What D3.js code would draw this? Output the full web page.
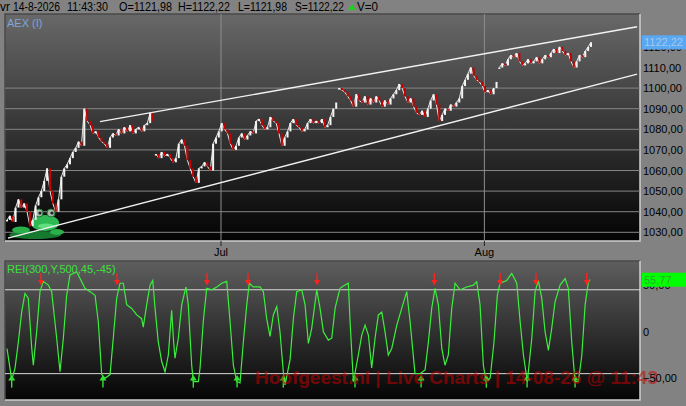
<!DOCTYPE html>
<html>
<head>
<meta charset="utf-8">
<script src="https://cdn.jsdelivr.net/npm/d3@7"></script>
<style>
    html, body { margin: 0; padding: 0; background: #828282; overflow: hidden; }
    svg { display: block; font-family: "Liberation Sans", Arial, sans-serif; }
</style>
</head>
<body>
<svg width="686" height="406"></svg>
<script>

//  Close of every bar, 4 bars per trading day, starting early June
const priceCloses = [
    1036, 1038, 1035, 1042,   1046, 1042, 1044, 1040,   1033, 1036, 1043, 1047,
    1050, 1055, 1061, 1050,   1044, 1040, 1046, 1057,   1061, 1063, 1066, 1069,
    1071, 1074, 1072, 1090,   1084, 1082, 1078, 1079,   1076, 1074, 1073, 1071,
    1076, 1078, 1077, 1080,   1078, 1081, 1079, 1082,   1078, 1080, 1081, 1079,
    1082, 1083, 1088, 1084,   1068, 1066, 1069, 1067,   1068, 1066, 1064, 1066,
    1073, 1075, 1072, 1065,   1061, 1057, 1054, 1061,   1062, 1064, 1062, 1060,
    1073, 1076, 1079, 1083,   1080, 1078, 1073, 1070,   1072, 1076, 1078, 1075,
    1077, 1079, 1078, 1084,   1085, 1082, 1080, 1081,   1086, 1084, 1083, 1078,
    1072, 1076, 1079, 1083,   1085, 1082, 1081, 1079,   1080, 1083, 1085, 1083,
    1084, 1083, 1085, 1081,   1082, 1086, 1090, 1093,   1100, 1099, 1098, 1096,
    1094, 1091, 1097, 1094,   1093, 1096, 1092, 1095,   1093, 1096, 1094, 1091,
    1094, 1092, 1095, 1097,   1099, 1102, 1100, 1096,   1093, 1095, 1091, 1088,
    1087, 1089, 1086, 1090,   1094, 1097, 1092, 1084,   1087, 1090, 1089, 1092,
    1091, 1093, 1095, 1101,   1104, 1107, 1110, 1106,   1104, 1103, 1101, 1098,
    1099, 1097, 1100, 1103,   1110, 1112, 1111, 1114,   1116, 1115, 1117, 1113,
    1111, 1112, 1114, 1112,   1113, 1115, 1112, 1114,   1116, 1115, 1117, 1119,
    1117, 1120, 1118, 1116,   1117, 1113, 1110, 1113,   1116, 1115, 1118, 1120,
    1122.22
];
const barsPerDay = 4;
const gapBars = [52, 116, 172];     //  bars that open with a gap

//  REI(300,Y,500,45,-45): [trading day, value]
const reiSeries = [
    [0, -18], [0.26, -39], [0.41, -52], [0.70, -39], [0.99, -11], [1.28, 21], [1.57, 41], [1.86, 36], [2.16, -17.5], [2.30, -36],
    [2.59, 0], [2.88, 43], [3.17, 54], [3.61, 50], [3.90, 43], [4.34, -7], [4.63, -43], [4.92, -7], [5.21, 39], [5.50, 61],
    [6.09, 64], [6.38, 57], [6.81, 46.5], [7.25, 43], [7.69, 39], [7.97, 11], [8.27, -46], [8.56, -50], [9.00, -46], [9.28, -7],
    [9.58, 36], [9.87, 52], [10.16, 52], [10.45, 29], [10.89, 25], [11.33, 18], [11.76, 14], [11.90, 5], [12.20, 29], [12.49, 50],
    [12.73, 55], [12.93, 25], [13.21, -11], [13.51, -32], [13.80, -43], [14.09, -25], [14.38, 23], [14.53, -7], [14.67, -28.5], [14.96, -7],
    [15.26, 29], [15.63, 48], [15.83, 29], [16.13, -36], [16.27, -53.6], [16.71, -53.6], [16.86, -39], [17.14, 11], [17.44, 46.5], [17.88, 45],
    [18.32, 48], [18.75, 52], [19.19, 54], [19.48, 11], [19.77, -36], [20.06, -53.6], [20.35, -55], [20.64, -11], [20.94, 29], [21.16, 52],
    [21.51, 48], [22.10, 48], [22.39, 43], [22.68, 14], [22.97, -5], [23.26, 18], [23.56, 27], [23.84, 0], [24.13, -43], [24.28, -57],
    [24.72, -30], [25.01, 14], [25.30, 43], [25.74, 45], [26.03, 29], [26.32, -12.5], [26.61, 3.6], [27.05, 45], [27.34, 25], [27.63, 0],
    [28.06, -9], [28.36, -7], [28.65, 25], [29.08, 46.5], [29.52, 50], [29.81, 52], [29.96, 11], [30.25, -53.6], [30.68, -25], [30.98, -3.6],
    [31.27, 7], [31.56, -3.6], [31.85, -39], [32.14, -7], [32.43, 18], [32.73, 21], [33.01, 0], [33.30, -25], [33.60, -18], [34.04, 7],
    [34.47, 25], [34.91, 43], [35.20, 11], [35.63, -45], [36.07, -45], [36.51, -41], [36.80, -11], [37.09, 25], [37.38, 46.5], [37.67, 29],
    [37.97, -18], [38.25, -36], [38.54, -25], [38.84, 25], [39.13, 52], [39.57, 45], [40.15, 48], [40.73, 50], [41.02, 53.6], [41.31, 29],
    [41.60, -36], [41.84, -53.6], [42.19, -50], [42.53, -11], [42.82, 39], [43.06, 52], [43.64, 55], [44.08, 62.6], [44.52, 52], [44.81, 11],
    [45.10, -25], [45.44, -53.6], [45.83, -7], [46.12, 43], [46.40, 55], [46.70, 36], [46.99, 0], [47.28, -20], [47.57, 3.6], [47.86, 32],
    [48.30, 50], [48.74, 57], [49.02, 46.5], [49.32, -11], [49.61, -53.6], [49.90, -53.6], [50.20, -25], [50.49, 29], [50.78, 53.6], [50.92, 55.77]
];
const sellDays = [2.97, 9.61, 17.47, 21.05, 27.08, 37.32, 43.06, 46.20, 50.63];
const buyDays = [0.41, 8.38, 16.27, 20.09, 24.13, 30.39, 36.16, 41.86, 45.42, 49.61];

//  Trend channel, [trading day, price]
const trendUpper = [[8.12, 1083.7], [55.03, 1129.8]];
const trendLower = [[0.09, 1027.2], [55.03, 1106.8]];

const priceTicks = [1030, 1040, 1050, 1060, 1070, 1080, 1090, 1100, 1110, 1120];
const priceGrid = [1030, 1040, 1050, 1060, 1070, 1080, 1090, 1100];
const reiTicks = [50, 0, -50];
const reiBands = [45, -45];
const monthLabels = ['Jul', 'Aug'];
const monthDays = [18.69, 41.69];

const lastPrice = 1122.22;
const lastRei = 55.77;
const headerParts = ['vr', '14-8-2026', '11:43:30', 'O=1121,98', 'H=1122,22', 'L=1121,98', 'S=1122,22'];
const headerVolume = 'V=0';
const watermark = 'Hoofgeest.nl | Live Charts | 14-08-26 @ 11:43';


//======================================
//  Layout
//======================================
const svg = d3.select('svg');
const mainBox = { x: 5, y: 14, w: 635, h: 227 };
const reiBox = { x: 5, y: 261, w: 635, h: 139 };

const xDay = d3.scaleLinear().domain([0, 55.28]).range([7, 640]);
const yPrice = d3.scaleLinear().domain([1030, 1130]).range([232.3, 26.3]);
const yRei = d3.scaleLinear().domain([-50, 50]).range([378.3, 285.1]);

const fmtComma = v => v === 0 ? '0' : d3.format('.2f')(v).replace('.', ',');

const defs = svg.append('defs');

function addGradient(id, top, bottom) {
    const g = defs.append('linearGradient').attr('id', id)
        .attr('x1', 0).attr('y1', 0).attr('x2', 0).attr('y2', 1);
    g.append('stop').attr('offset', 0).attr('stop-color', top);
    g.append('stop').attr('offset', 1).attr('stop-color', bottom);
}
addGradient('mainBg', '#686868', '#030303');
addGradient('reiBg', '#5e5e5e', '#040404');

function addClip(id, box) {
    defs.append('clipPath').attr('id', id)
        .append('rect').attr('x', box.x).attr('y', box.y).attr('width', box.w).attr('height', box.h);
}
addClip('clipMain', mainBox);
addClip('clipRei', reiBox);

function drawPanel(box, fill) {
    svg.append('rect')
        .attr('x', box.x).attr('y', box.y).attr('width', box.w).attr('height', box.h)
        .attr('fill', `url(#${fill})`);
    const b = svg.append('g').attr('stroke-width', 1.5).attr('fill', 'none');
    b.append('path').attr('stroke', '#4a4a4a')
        .attr('d', `M${box.x},${box.y + box.h} V${box.y} H${box.x + box.w}`);
    b.append('path').attr('stroke', '#cfcfcf')
        .attr('d', `M${box.x},${box.y + box.h} H${box.x + box.w} V${box.y}`);
}


//======================================
//  Header
//======================================
//  start and width of every header word, so it fits the narrow status bar
const headerX = [0, 13, 67, 119, 178, 238, 295];
const headerW = [10, 47, 41, 53, 52, 49, 49];
svg.append('g')
    .attr('font-size', 12)
    .selectAll('text')
    .data(headerParts)
    .enter()
    .append('text')
    .attr('x', (d, i) => headerX[i])
    .attr('y', 11)
    .attr('textLength', (d, i) => headerW[i])
    .attr('lengthAdjust', 'spacingAndGlyphs')
    .attr('fill', '#000')
    .text(d => d);

svg.append('path')
    .attr('d', 'M348,10 L352,4 L356,10 Z')
    .attr('fill', '#1ed01e');
svg.append('text')
    .attr('x', 357).attr('y', 11)
    .attr('font-size', 12)
    .attr('textLength', 21)
    .attr('lengthAdjust', 'spacingAndGlyphs')
    .text(headerVolume);


//======================================
//  Main price panel
//======================================
drawPanel(mainBox, 'mainBg');

const main = svg.append('g').attr('clip-path', 'url(#clipMain)');

main.append('g')
    .selectAll('line')
    .data(priceGrid)
    .enter()
    .append('line')
    .attr('x1', mainBox.x).attr('x2', mainBox.x + mainBox.w)
    .attr('y1', d => yPrice(d)).attr('y2', d => yPrice(d))
    .attr('stroke', '#858585');

main.append('g')
    .selectAll('line')
    .data(monthDays)
    .enter()
    .append('line')
    .attr('x1', d => xDay(d)).attr('x2', d => xDay(d))
    .attr('y1', mainBox.y).attr('y2', mainBox.y + mainBox.h)
    .attr('stroke', '#8e8e8e');

//  Frog mascot, lower left
const frog = main.append('g');
frog.append('ellipse').attr('cx', 35).attr('cy', 235).attr('rx', 26).attr('ry', 4).attr('fill', '#157a30');
frog.append('ellipse').attr('cx', 21).attr('cy', 230).attr('rx', 9).attr('ry', 3.5).attr('fill', '#2bb04c');
frog.append('ellipse').attr('cx', 57).attr('cy', 232).attr('rx', 7).attr('ry', 3).attr('fill', '#2bb04c');
frog.append('ellipse').attr('cx', 45).attr('cy', 223).attr('rx', 14).attr('ry', 8).attr('fill', '#2fb955');
frog.append('ellipse').attr('cx', 46).attr('cy', 226).attr('rx', 8).attr('ry', 2.5).attr('fill', '#5ede7f');
[39, 51].forEach(cx => {
    frog.append('circle').attr('cx', cx).attr('cy', 213).attr('r', 4).attr('fill', '#a9b9a9').attr('stroke', '#1d7a33');
    frog.append('circle').attr('cx', cx + 1).attr('cy', 213).attr('r', 1.6).attr('fill', '#222');
});

//  Candles
const candles = priceCloses.map((c, i) => ({
    day: i / barsPerDay,
    open: (i === 0 || gapBars.includes(i)) ? c : priceCloses[i - 1],
    close: c,
    gap: gapBars.includes(i)
}));

//  thin close line, broken at every gap, so the bars read as one jagged trace
main.append('path')
    .attr('d', d3.line()
        .defined((d, i) => !(candles[i + 1] && candles[i + 1].gap))
        .x(d => xDay(d.day))
        .y(d => yPrice(d.close))(candles))
    .attr('stroke', '#e8e8e8')
    .attr('stroke-width', 1)
    .attr('fill', 'none');

main.append('g')
    .selectAll('rect')
    .data(candles)
    .enter()
    .append('rect')
    .attr('x', d => xDay(d.day) - 1)
    .attr('width', 2)
    .attr('y', d => yPrice(Math.max(d.open, d.close)))
    .attr('height', d => Math.max(1.5, Math.abs(yPrice(d.open) - yPrice(d.close))))
    .attr('fill', d => d.close >= d.open ? '#f4f4f4' : '#c80000');

//  Trend channel
const trendLine = d3.line().x(d => xDay(d[0])).y(d => yPrice(d[1]));
[trendUpper, trendLower].forEach(t => {
    main.append('path')
        .attr('d', trendLine(t))
        .attr('stroke', '#f2f2f2')
        .attr('stroke-width', 1.4)
        .attr('fill', 'none');
});

svg.append('text')
    .attr('x', 7).attr('y', 27)
    .attr('font-size', 11)
    .attr('fill', '#7ea6dc')
    .text('AEX (I)');

//  Month axis under the price panel
const months = svg.append('g');
months.selectAll('line')
    .data(monthDays)
    .enter()
    .append('line')
    .attr('x1', d => xDay(d)).attr('x2', d => xDay(d))
    .attr('y1', mainBox.y + mainBox.h).attr('y2', mainBox.y + mainBox.h + 5)
    .attr('stroke', '#222');
months.selectAll('text')
    .data(monthLabels)
    .enter()
    .append('text')
    .attr('x', (d, i) => xDay(monthDays[i]))
    .attr('y', 256)
    .attr('text-anchor', 'middle')
    .attr('font-size', 11)
    .text(d => d);


//======================================
//  REI panel
//======================================
drawPanel(reiBox, 'reiBg');

const rei = svg.append('g').attr('clip-path', 'url(#clipRei)');

rei.append('g')
    .selectAll('line')
    .data(reiBands)
    .enter()
    .append('line')
    .attr('x1', reiBox.x).attr('x2', reiBox.x + reiBox.w)
    .attr('y1', d => yRei(d)).attr('y2', d => yRei(d))
    .attr('stroke', '#d8d8d8');

rei.append('path')
    .attr('d', d3.line().x(d => xDay(d[0])).y(d => yRei(d[1]))(reiSeries))
    .attr('stroke', '#3cef3c')
    .attr('stroke-width', 1.2)
    .attr('fill', 'none');

const sells = rei.append('g').selectAll('g')
    .data(sellDays)
    .enter()
    .append('g')
    .attr('transform', d => `translate(${xDay(d)},${yRei(63)})`);
sells.append('line').attr('y1', 0).attr('y2', 8).attr('stroke', '#ff2020').attr('stroke-width', 1.4);
sells.append('path').attr('d', 'M-3,7 L3,7 L0,12.5 Z').attr('fill', '#ff2020');

const buys = rei.append('g').selectAll('g')
    .data(buyDays)
    .enter()
    .append('g')
    .attr('transform', d => `translate(${xDay(d)},${yRei(-60)})`);
buys.append('line').attr('y1', 0).attr('y2', -8).attr('stroke', '#33e033').attr('stroke-width', 1.4);
buys.append('path').attr('d', 'M-3.5,-7 L3.5,-7 L0,-12.5 Z').attr('fill', '#33e033');

svg.append('text')
    .attr('x', 7).attr('y', 273)
    .attr('font-size', 11)
    .attr('fill', '#3ce03c')
    .text('REI(300,Y,500,45,-45)');

//  Watermark
svg.append('text')
    .attr('x', 255).attr('y', 384)
    .attr('font-size', 19)
    .attr('font-weight', 'bold')
    .attr('fill', 'rgba(200,0,0,0.55)')
    .text(watermark);


//======================================
//  Right axes
//======================================
function drawRightAxis(scale, ticks) {
    const g = svg.append('g')
        .attr('transform', `translate(${mainBox.x + mainBox.w},0)`)
        .call(d3.axisRight(scale).tickValues(ticks).tickSize(0).tickPadding(3).tickFormat(fmtComma));
    g.select('.domain').remove();
    g.selectAll('text')
        .attr('font-family', '"Liberation Sans", Arial, sans-serif')
        .attr('font-size', 11)
        .attr('fill', '#000');
}
drawRightAxis(yPrice, priceTicks);
drawRightAxis(yRei, reiTicks);

//  Last value boxes
function lastBox(y, label, fill, color) {
    svg.append('rect')
        .attr('x', 642).attr('y', y - 7)
        .attr('width', 44).attr('height', 14)
        .attr('fill', fill);
    svg.append('text')
        .attr('x', 644).attr('y', y + 4)
        .attr('font-size', 11)
        .attr('fill', color)
        .text(label);
}
lastBox(yPrice(lastPrice), fmtComma(lastPrice), '#58a8f4', '#a9c6e6');
lastBox(yRei(lastRei), fmtComma(lastRei), '#00ff00', '#2fa82f');

</script>
</body>
</html>
